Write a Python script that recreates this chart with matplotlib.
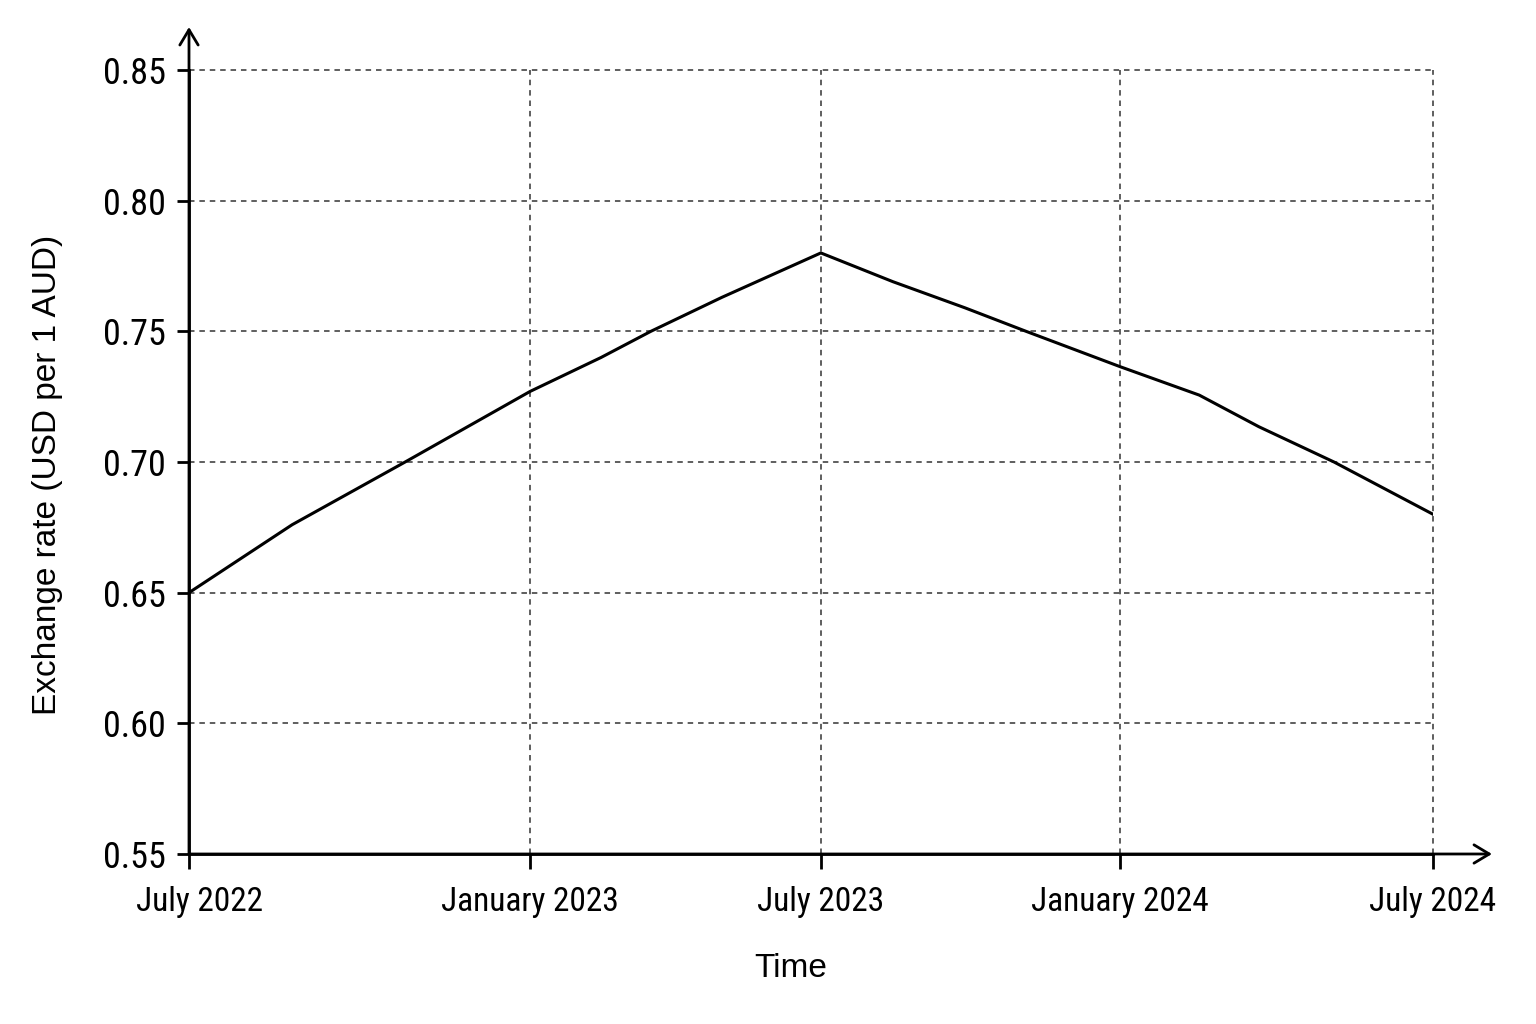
import matplotlib
matplotlib.use("Agg")
import matplotlib.pyplot as plt
from matplotlib import font_manager
from matplotlib.transforms import ScaledTranslation

# months counted from July 2022
months = [0, 1.99, 4.17, 6.58, 7.95, 8.91, 10.28, 12.19, 13.58, 14.97, 16.15, 17.96, 19.49, 20.64, 22.09, 24]
rate = [0.650, 0.676, 0.700, 0.727, 0.740, 0.750, 0.763, 0.780, 0.769, 0.759, 0.750, 0.7365, 0.7256, 0.7135, 0.700, 0.680]

tick_months = [0, 6.58, 12.19, 17.96, 24]
tick_labels = ["July 2022", "January 2023", "July 2023", "January 2024", "July 2024"]
y_ticks = [0.55, 0.60, 0.65, 0.70, 0.75, 0.80, 0.85]

plt.rcParams["font.family"] = ["Liberation Sans", "DejaVu Sans"]

# tick labels in the original use a narrow sans; pick one if there is any
tick_font = None
for f in font_manager.fontManager.ttflist:
    if f.style != "normal" or f.weight not in (400, "normal", "regular"):
        continue
    if f.name in ("Liberation Sans Narrow", "Roboto Condensed", "Open Sans Condensed") or (
            f.name in ("Roboto", "Noto Sans", "Open Sans", "Liberation Sans")
            and f.stretch in ("condensed", "semi-condensed", 500 - 125, 300, 375, 400 - 100)):
        tick_font = f.fname
        break
if tick_font:
    xfp = font_manager.FontProperties(fname=tick_font, size=24)
    yfp = font_manager.FontProperties(fname=tick_font, size=26)
else:
    xfp = font_manager.FontProperties(family="Liberation Sans", size=22)
    yfp = font_manager.FontProperties(family="Liberation Sans", size=24)

fig = plt.figure(figsize=(15.36, 10.24), dpi=100)
ax = fig.add_axes([189/1536, 1-854/1024, (1433-189)/1536, (854-70)/1024])

ax.plot(months, rate, color="black", lw=2.2, zorder=3)

ax.set_xlim(0, 24)
ax.set_ylim(0.55, 0.85)
ax.set_xticks(tick_months)
ax.set_xticklabels(tick_labels, fontproperties=xfp)
ax.set_yticks(y_ticks)
ax.set_yticklabels(["%.2f" % v for v in y_ticks], fontproperties=yfp)

ax.grid(True, color="#333333", lw=1.1, linestyle=(0, (3.6, 3.2)))
for gl in ax.get_xgridlines() + ax.get_ygridlines():
    gl.set_clip_on(False)
for s in ["top", "right"]:
    ax.spines[s].set_visible(False)
for s in ["left", "bottom"]:
    ax.spines[s].set_linewidth(2.0)
ax.tick_params(axis="x", direction="out", length=11, width=2.0, pad=12)
ax.tick_params(axis="y", direction="out", length=8.5, width=2.0, pad=8)

# nudge the first date label to the right like in the original
lab0 = ax.xaxis.get_major_ticks()[0].label1
lab0.set_transform(lab0.get_transform() + ScaledTranslation(11/100, 0, fig.dpi_scale_trans))

# axis arrows
arrow = dict(arrowstyle="->,head_length=0.55,head_width=0.33", lw=2.0, color="black",
             mutation_scale=20, shrinkA=0, shrinkB=0)
ax.annotate("", xy=(0, 1.0548), xytext=(0, 0), xycoords="axes fraction", arrowprops=arrow)
ax.annotate("", xy=(1.0474, 0), xytext=(0, 0), xycoords="axes fraction", arrowprops=arrow)

ax.set_ylabel("Exchange rate (USD per 1 AUD)", fontsize=24)
ax.yaxis.set_label_coords(-0.1013, 0.4834)
ax.set_xlabel("Time", fontsize=24)
ax.xaxis.set_label_coords(0.484, -0.126)

fig.savefig("out.png", dpi=100, facecolor="white")
